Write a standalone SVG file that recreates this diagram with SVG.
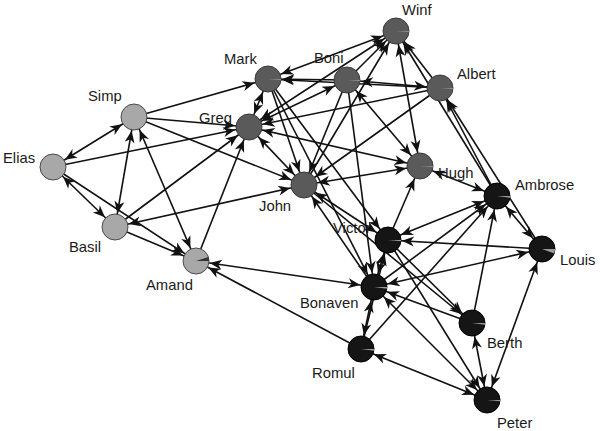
<svg xmlns="http://www.w3.org/2000/svg" xmlns:xlink="http://www.w3.org/1999/xlink" width="600" height="431" viewBox="0 0 600 431">
<style>
.c line{stroke:#111;stroke-width:1.6;fill:none}
.e{marker-end:url(#ah)}
.b{marker-start:url(#ah);marker-end:url(#ah)}
.n1 circle{fill:#a8a8a8;stroke:#4a4a4a;stroke-width:1}
.n2 circle{fill:#5a5a5a;stroke:#3a3a3a;stroke-width:1}
.n3 circle{fill:#151515;stroke:#000;stroke-width:1}
.wl{fill:#9a9a9a}
.wd{fill:#8a8a8a}
.wk{fill:#333}
text{font-family:"Liberation Sans",Arial,sans-serif;font-size:14.8px;fill:#1a1a1a}
</style>
<defs>
<marker id="ah" markerUnits="userSpaceOnUse" markerWidth="13" markerHeight="10" refX="26" refY="5" orient="auto-start-reverse" overflow="visible">
<path d="M0,0 L12,5 L0,10 L3.5,5 Z" fill="#111"/>
</marker>
<path id="wt" d="M0,0 L13,0 A13,13 0 0 1 12.95,1.13 Z"/>
<path id="w8" d="M0,0 L13,0 A13,13 0 0 1 12.87,1.81 Z"/>
<path id="w20" d="M0,0 L13,0 A13,13 0 0 1 12.22,4.45 Z"/>
<path id="wa" d="M0,0 L12.36,-4.02 A13,13 0 0 1 13,0 Z"/>
</defs>
<rect width="600" height="431" fill="#fff"/>
<g id="connectors" class="c">
<line class="b" x1="134" y1="117" x2="53" y2="167"/>
<line class="b" x1="134" y1="117" x2="115" y2="227"/>
<line class="b" x1="134" y1="117" x2="196" y2="261"/>
<line class="e" x1="134" y1="117" x2="268" y2="79"/>
<line class="e" x1="134" y1="117" x2="249" y2="127"/>
<line class="e" x1="134" y1="117" x2="304" y2="185"/>
<line class="e" x1="53" y1="167" x2="249" y2="127"/>
<line class="b" x1="53" y1="167" x2="115" y2="227"/>
<line class="e" x1="53" y1="167" x2="196" y2="261"/>
<line class="e" x1="115" y1="227" x2="196" y2="261"/>
<line class="e" x1="115" y1="227" x2="249" y2="127"/>
<line class="b" x1="115" y1="227" x2="304" y2="185"/>
<line class="e" x1="196" y1="261" x2="249" y2="127"/>
<line class="b" x1="196" y1="261" x2="374" y2="287"/>
<line class="e" x1="361" y1="349" x2="196" y2="261"/>
<line class="b" x1="268" y1="79" x2="249" y2="127"/>
<line class="b" x1="268" y1="79" x2="396" y2="31"/>
<line class="e" x1="347" y1="80" x2="268" y2="79"/>
<line class="e" x1="440" y1="88" x2="268" y2="79"/>
<line class="e" x1="268" y1="79" x2="304" y2="185"/>
<line class="e" x1="268" y1="79" x2="388" y2="240"/>
<line class="e" x1="347" y1="80" x2="396" y2="31"/>
<line class="b" x1="347" y1="80" x2="440" y2="88"/>
<line class="e" x1="347" y1="80" x2="304" y2="185"/>
<line class="e" x1="347" y1="80" x2="374" y2="287"/>
<line class="b" x1="249" y1="127" x2="347" y2="80"/>
<line class="b" x1="249" y1="127" x2="396" y2="31"/>
<line class="e" x1="440" y1="88" x2="249" y2="127"/>
<line class="b" x1="249" y1="127" x2="304" y2="185"/>
<line class="b" x1="249" y1="127" x2="420" y2="166"/>
<line class="e" x1="304" y1="185" x2="396" y2="31"/>
<line class="b" x1="396" y1="31" x2="420" y2="166"/>
<line class="e" x1="440" y1="88" x2="396" y2="31"/>
<line class="e" x1="497" y1="196" x2="396" y2="31"/>
<line class="e" x1="497" y1="196" x2="440" y2="88"/>
<line class="e" x1="542" y1="249" x2="440" y2="88"/>
<line class="e" x1="440" y1="88" x2="304" y2="185"/>
<line class="b" x1="347" y1="80" x2="420" y2="166"/>
<line class="b" x1="497" y1="196" x2="420" y2="166"/>
<line class="e" x1="388" y1="240" x2="420" y2="166"/>
<line class="b" x1="304" y1="185" x2="420" y2="166"/>
<line class="b" x1="497" y1="196" x2="388" y2="240"/>
<line class="e" x1="542" y1="249" x2="388" y2="240"/>
<line class="b" x1="374" y1="287" x2="542" y2="249"/>
<line class="b" x1="374" y1="287" x2="388" y2="240"/>
<line class="b" x1="361" y1="349" x2="374" y2="287"/>
<line class="e" x1="361" y1="349" x2="497" y2="196"/>
<line class="e" x1="472" y1="323" x2="497" y2="196"/>
<line class="e" x1="472" y1="323" x2="374" y2="287"/>
<line class="b" x1="472" y1="323" x2="487" y2="400"/>
<line class="b" x1="542" y1="249" x2="487" y2="400"/>
<line class="b" x1="361" y1="349" x2="487" y2="400"/>
<line class="b" x1="374" y1="287" x2="487" y2="400"/>
<line class="e" x1="388" y1="240" x2="472" y2="323"/>
<line class="e" x1="388" y1="240" x2="487" y2="400"/>
<line class="b" x1="304" y1="185" x2="388" y2="240"/>
<line class="e" x1="374" y1="287" x2="304" y2="185"/>
<line class="e" x1="304" y1="185" x2="472" y2="323"/>
<line class="e" x1="374" y1="287" x2="497" y2="196"/>
<line class="b" x1="497" y1="196" x2="542" y2="249"/>
<line class="e" x1="268" y1="79" x2="374" y2="287"/>
<line class="e" x1="361" y1="349" x2="388" y2="240"/>
</g>
<g id="n-Winf" class="n2"><circle cx="396" cy="31" r="13"/><use xlink:href="#wt" x="396" y="31" class="wd"/><text x="402" y="15">Winf</text></g>
<g id="n-Mark" class="n2"><circle cx="268" cy="79" r="13"/><use xlink:href="#wt" x="268" y="79" class="wd"/><text x="224" y="64">Mark</text></g>
<g id="n-Boni" class="n2"><circle cx="347" cy="80" r="13"/><use xlink:href="#wt" x="347" y="80" class="wd"/><text x="314" y="63">Boni</text></g>
<g id="n-Albert" class="n2"><circle cx="440" cy="88" r="13"/><use xlink:href="#wt" x="440" y="88" class="wd"/><text x="457" y="79">Albert</text></g>
<g id="n-Greg" class="n2"><circle cx="249" cy="127" r="13"/><text x="199" y="123">Greg</text></g>
<g id="n-Hugh" class="n2"><circle cx="420" cy="166" r="13"/><use xlink:href="#wt" x="420" y="166" class="wd"/><text x="438" y="178">Hugh</text></g>
<g id="n-John" class="n2"><circle cx="304" cy="185" r="13"/><text x="259" y="211">John</text></g>
<g id="n-Simp" class="n1"><circle cx="134" cy="117" r="13"/><text x="88" y="101">Simp</text></g>
<g id="n-Elias" class="n1"><circle cx="53" cy="167" r="13"/><text x="3" y="163">Elias</text></g>
<g id="n-Basil" class="n1"><circle cx="115" cy="227" r="13"/><text x="69" y="252">Basil</text></g>
<g id="n-Amand" class="n1"><circle cx="196" cy="261" r="13"/><use xlink:href="#wa" x="196" y="261" class="wk"/><text x="146" y="290">Amand</text></g>
<g id="n-Ambrose" class="n3"><circle cx="497" cy="196" r="13"/><use xlink:href="#w8" x="497" y="196" class="wl"/><text x="515" y="190">Ambrose</text></g>
<g id="n-Victor" class="n3"><circle cx="388" cy="240" r="13"/><use xlink:href="#wt" x="388" y="240" class="wl"/><text x="333" y="233">Victor</text></g>
<g id="n-Louis" class="n3"><circle cx="542" cy="249" r="13"/><use xlink:href="#w20" x="542" y="249" class="wl"/><text x="560" y="265">Louis</text></g>
<g id="n-Bonaven" class="n3"><circle cx="374" cy="287" r="13"/><use xlink:href="#w8" x="374" y="287" class="wl"/><text x="300" y="308">Bonaven</text></g>
<g id="n-Berth" class="n3"><circle cx="472" cy="323" r="13"/><use xlink:href="#w8" x="472" y="323" class="wl"/><text x="487" y="348">Berth</text></g>
<g id="n-Romul" class="n3"><circle cx="361" cy="349" r="13"/><use xlink:href="#w8" x="361" y="349" class="wl"/><text x="312" y="378">Romul</text></g>
<g id="n-Peter" class="n3"><circle cx="487" cy="400" r="13"/><use xlink:href="#wt" x="487" y="400" class="wl"/><text x="497" y="428">Peter</text></g>
</svg>
